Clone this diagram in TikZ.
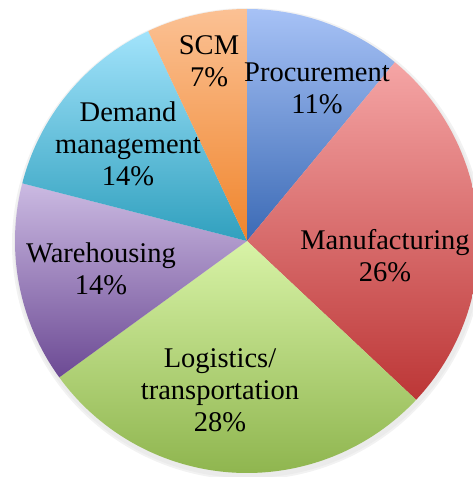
\documentclass[tikz,border=0pt]{standalone}
\usepackage{fontspec}
\setmainfont{Liberation Serif}
\usetikzlibrary{positioning}

\definecolor{procTop}{HTML}{A7C2F6}
\definecolor{procBot}{HTML}{3B6AB5}
\definecolor{manuTop}{HTML}{F5A5A5}
\definecolor{manuBot}{HTML}{BC3636}
\definecolor{logiTop}{HTML}{D8F3A7}
\definecolor{logiBot}{HTML}{8BB24A}
\definecolor{wareTop}{HTML}{CBBAE2}
\definecolor{wareBot}{HTML}{6C4A94}
\definecolor{demaTop}{HTML}{A2E3FB}
\definecolor{demaBot}{HTML}{30A0BE}
\definecolor{scmTop}{HTML}{FBC194}
\definecolor{scmBot}{HTML}{F0852C}

\begin{document}
\begin{tikzpicture}[x=1pt,y=1pt,
  pie label/.style={align=center,inner sep=0pt,
  font=\fontsize{28.5}{32}\selectfont}]

  \useasboundingbox (-247,-236) rectangle (226,241);

  % soft shadow round the pie
  \fill[black!5] (1,-3) circle (236);
  \fill[black!8] (1,-3) circle (234);

  % slices, clockwise from twelve o'clock
  \shade[top color=procTop,bottom color=procBot]
    (0,0) -- (90:232) arc[start angle=90,end angle=50.4,radius=232] -- cycle;
  \shade[top color=manuTop,bottom color=manuBot]
    (0,0) -- (50.4:232) arc[start angle=50.4,end angle=-43.2,radius=232] -- cycle;
  \shade[top color=logiTop,bottom color=logiBot]
    (0,0) -- (-43.2:232) arc[start angle=-43.2,end angle=-144,radius=232] -- cycle;
  \shade[top color=wareTop,bottom color=wareBot]
    (0,0) -- (-144:232) arc[start angle=-144,end angle=-194.4,radius=232] -- cycle;
  \shade[top color=demaTop,bottom color=demaBot]
    (0,0) -- (165.6:232) arc[start angle=165.6,end angle=115.2,radius=232] -- cycle;
  \shade[top color=scmTop,bottom color=scmBot]
    (0,0) -- (115.2:232) arc[start angle=115.2,end angle=90,radius=232] -- cycle;

  \node[pie label] (scm)  at (-38,180) {SCM\\7\%};
  \node[pie label] (proc) at (70,153) {Procurement\\11\%};
  \node[pie label] (dema) at (-119,97) {Demand\\management\\14\%};
  \node[pie label] (manu) at (138,-15) {Manufacturing\\26\%};
  \node[pie label] (ware) at (-146,-28) {Warehousing\\14\%};
  \node[pie label] (logi) at (-27,-149) {Logistics/\\transportation\\28\%};

\end{tikzpicture}
\end{document}
